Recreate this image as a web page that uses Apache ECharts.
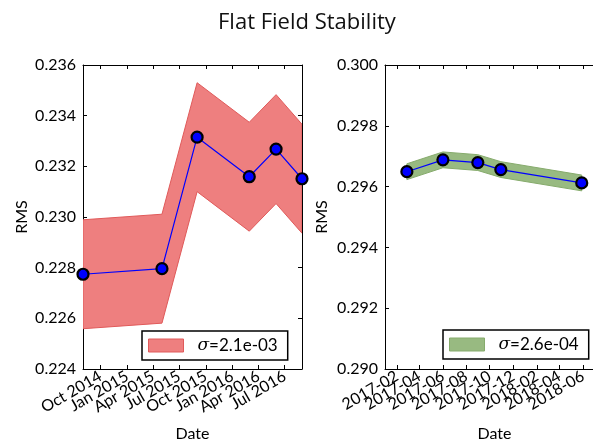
<!DOCTYPE html>
<html><head><meta charset="utf-8">
<script src="https://cdn.jsdelivr.net/npm/echarts@6/dist/echarts.min.js"></script>
<style>html,body{margin:0;padding:0;background:#fff}#c{width:593px;height:441px}</style>
</head><body><div id="c"></div>
<script>
// ---- data ----
const leftDates = ['2014-08-01','2015-05-02','2015-09-01','2016-02-29','2016-06-01','2016-08-30'];
const leftRMS = [0.22774, 0.22796, 0.23315, 0.23159, 0.23268, 0.23151];
const leftSigma = 0.00215;
const leftLegend = '2.1e-03';
const leftTickDates = ['2014-10-01','2015-01-01','2015-04-01','2015-07-01','2015-10-01','2016-01-01','2016-04-01','2016-07-01'];
const leftTickLabels = ['Oct 2014','Jan 2015','Apr 2015','Jul 2015','Oct 2015','Jan 2016','Apr 2016','Jul 2016'];
const leftXRange = ['2014-08-01','2016-08-30'];
const leftYRange = [0.224, 0.236];

const rightDates = ['2017-02-27','2017-06-01','2017-08-31','2017-10-30','2018-05-29'];
const rightRMS = [0.29649, 0.29688, 0.29679, 0.29656, 0.29612];
const rightSigma = 0.00026;
const rightLegend = '2.6e-04';
const rightTickDates = ['2017-02-01','2017-04-01','2017-06-01','2017-08-01','2017-10-01','2017-12-01','2018-02-01','2018-04-01','2018-06-01'];
const rightTickLabels = ['2017-02','2017-04','2017-06','2017-08','2017-10','2017-12','2018-02','2018-04','2018-06'];
const rightXRange = ['2017-01-01','2018-07-26'];
const rightYRange = [0.290, 0.300];
const yInterval = 0.002;

// ---- styles ----
const FONT = 'Lato';
const redFill = '#ee7f7f', redEdge = '#e05a5a';
const greenFill = '#98ba81', greenEdge = '#86ab6c';

const ts = s => Date.UTC(+s.slice(0, 4), +s.slice(5, 7) - 1, +s.slice(8, 10));

function xAxes(grid, range, tickDates, tickLabels) {
  const vals = tickDates.map(ts);
  const lo = ts(range[0]), hi = ts(range[1]);
  // empty placeholder labels at the axis ends, so ECharts' min/max label
  // overlap check drops those instead of a real tick label
  const withEnds = [lo].concat(vals, [hi]);
  const common = {
    type: 'value', gridIndex: grid, min: lo, max: hi,
    splitLine: {show: false},
    axisLine: {show: true, onZero: false, lineStyle: {color: '#000', width: 1}}
  };
  return [
    Object.assign({}, common, {
      position: 'bottom', name: 'Date', nameLocation: 'middle', nameGap: 57,
      nameTextStyle: {fontFamily: FONT, fontSize: 16, color: '#000'},
      axisTick: {show: true, inside: true, length: 4, customValues: withEnds, lineStyle: {color: '#000'}},
      axisLabel: {show: true, customValues: withEnds, rotate: 30, margin: 6,
        showMinLabel: false, showMaxLabel: false, hideOverlap: false,
        fontFamily: FONT, fontSize: 16, color: '#000',
        formatter: v => { const i = vals.indexOf(v); return i >= 0 ? tickLabels[i] : ''; }}
    }),
    Object.assign({}, common, {position: 'top', axisLabel: {show: false},
      axisTick: {show: true, inside: true, length: 4, customValues: vals, lineStyle: {color: '#000'}}})
  ];
}
function yAxes(grid, range, gap) {
  const common = {
    type: 'value', gridIndex: grid, min: range[0], max: range[1], interval: yInterval,
    splitLine: {show: false},
    axisLine: {show: true, onZero: false, lineStyle: {color: '#000', width: 1}},
    axisTick: {show: true, inside: true, length: 4, lineStyle: {color: '#000'}}
  };
  return [
    Object.assign({}, common, {
      position: 'left', name: 'RMS', nameLocation: 'middle', nameGap: gap, nameRotate: 90,
      nameTextStyle: {fontFamily: FONT, fontSize: 16, color: '#000'},
      axisLabel: {show: true, margin: 7, fontFamily: FONT, fontSize: 16, color: '#000',
        showMinLabel: true, showMaxLabel: true,
        formatter: v => v.toFixed(3)}
    }),
    Object.assign({}, common, {position: 'right', axisLabel: {show: false}})
  ];
}
function seriesFor(xi, yi, dates, vals, sigma, name, fill, edge) {
  const bandData = dates.map((d, i) => [ts(d), vals[i] - sigma, vals[i] + sigma]);
  const line = dates.map((d, i) => [ts(d), vals[i]]);
  return [
    {type: 'custom', name: name, xAxisIndex: xi, yAxisIndex: yi, data: bandData, silent: true, z: 1,
     itemStyle: {color: fill, borderColor: edge},
     encode: {x: 0, y: [1, 2]},
     renderItem: function (params, api) {
       if (params.dataIndex !== 0) return null;
       const up = bandData.map(p => api.coord([p[0], p[2]]));
       const lo = bandData.map(p => api.coord([p[0], p[1]])).reverse();
       const cs = params.coordSys;
       return {
         type: 'polygon',
         shape: {points: up.concat(lo)},
         style: {fill: fill, stroke: edge, lineWidth: 1},
         clipPath: {type: 'rect', shape: {x: cs.x, y: cs.y, width: cs.width, height: cs.height}}
       };
     }},
    {type: 'line', xAxisIndex: xi, yAxisIndex: yi, data: line, symbol: 'circle', symbolSize: 11,
     lineStyle: {color: '#0000ff', width: 1.2},
     itemStyle: {color: '#0000ff', borderColor: '#000', borderWidth: 2.2}, z: 3}
  ];
}
function legendFor(left, top, name, fill, edge) {
  return {
    left: left, top: top, orient: 'vertical', selectedMode: false,
    data: [{name: name, icon: 'rect', itemStyle: {color: fill, borderColor: edge, borderWidth: 1}}],
    itemWidth: 35, itemHeight: 13, padding: [6, 10, 6, 6],
    borderColor: '#000', borderWidth: 1.5, backgroundColor: '#fff',
    textStyle: {fontFamily: FONT, fontSize: 17, color: '#000',
      rich: {s: {fontFamily: 'DejaVu Serif', fontStyle: 'italic', fontSize: 17, color: '#000', padding: [0, 0, 0, 9]},
             t: {fontFamily: FONT, fontSize: 17, color: '#000'}}},
    formatter: n => '{s|σ}{t|' + n.slice(1) + '}'
  };
}
const leftName = 'σ=' + leftLegend, rightName = 'σ=' + rightLegend;

const chart = echarts.init(document.getElementById('c'), null, {renderer: 'canvas'});
chart.setOption({
  animation: false,
  backgroundColor: '#fff',
  title: {text: 'Flat Field Stability', left: 213, top: 7,
    textStyle: {fontFamily: 'Open Sans', fontSize: 22, fontWeight: 'normal', color: '#111'}},
  grid: [
    {left: 83, top: 65, width: 219, height: 304, outerBoundsMode: 'none', containLabel: false},
    {left: 385, top: 65, width: 219, height: 304, outerBoundsMode: 'none', containLabel: false}
  ],
  xAxis: [].concat(xAxes(0, leftXRange, leftTickDates, leftTickLabels),
                   xAxes(1, rightXRange, rightTickDates, rightTickLabels)),
  yAxis: [].concat(yAxes(0, leftYRange, 53), yAxes(1, rightYRange, 55)),
  legend: [legendFor(142, 331, leftName, redFill, redEdge),
           legendFor(443, 330, rightName, greenFill, greenEdge)],
  series: [].concat(
    seriesFor(0, 0, leftDates, leftRMS, leftSigma, leftName, redFill, redEdge),
    seriesFor(2, 2, rightDates, rightRMS, rightSigma, rightName, greenFill, greenEdge))
});
</script></body></html>
